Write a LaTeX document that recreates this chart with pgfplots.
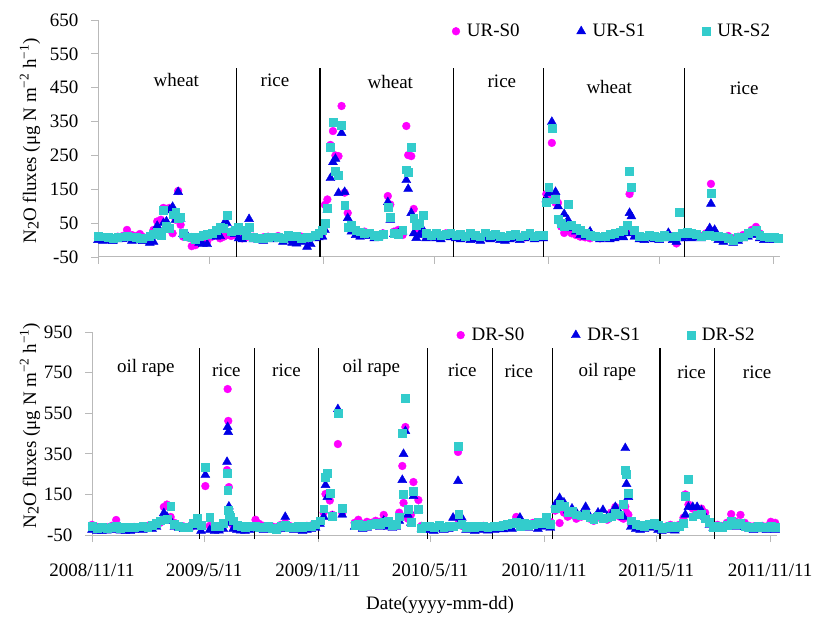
\documentclass[border=0pt]{standalone}
\usepackage{fontspec}
\setmainfont{Liberation Serif}
\usepackage{pgfplots}
\pgfplotsset{compat=1.18}
\usepackage{pgfplotstable}
\definecolor{cpink}{RGB}{255,0,255}
\definecolor{cblue}{RGB}{0,0,230}
\definecolor{ccyan}{RGB}{51,204,204}
\definecolor{axgray}{RGB}{185,185,185}
\newcommand{\ff}{\fontsize{19bp}{22bp}\selectfont}

\pgfplotstableread{
day s0 s1 s2
0 5 0 12
8 8 -2 10
16 3 0 8
24 6 -3 5
32 10 2 8
40 12 3 10
47 30 8 12
55 15 -2 10
62 12 5 8
68 18 2 6
72 10 -3 5
84 8 -8 12
90 30 -5 18
96 55 42 25
102 60 20 15
106 95 50 89
111 92 55 40
116 95 88 35
121 20 98 75
126 60 60 83
130 145 142 65
134 45 62 68
138 10 18 20
145 8 12 10
152 -18 5 8
158 -15 2 3
164 5 -8 10
170 3 -12 14
177 -5 -12 18
185 10 15 21
192 15 10 30
198 5 12 39
204 10 48 35
209 15 50 74
216 12 22 25
222 15 18 30
228 10 5 39
234 5 2 30
240 8 10 15
245 12 62 39
252 10 2 8
260 5 0 6
268 8 -2 5
276 10 5 8
284 6 2 10
292 12 4 8
300 5 -5 5
308 8 0 15
315 2 -8 10
322 5 -10 12
330 10 -5 5
339 5 -20 8
345 8 -12 10
352 10 5 15
358 15 8 20
364 20 10 30
368 104 30 50
372 120 89 95
377 281 183 275
381 322 230 349
385 250 240 204
390 248 139 192
395 396 316 340
400 140 142 104
405 80 65 39
411 35 25 45
418 20 15 30
425 15 10 25
432 25 18 20
440 18 12 22
448 10 5 15
455 12 8 10
462 20 15 18
470 130 112 98
474 105 60 68
480 25 18 20
487 30 20 18
494 15 25 30
500 337 177 208
503 251 151 200
508 248 80 275
512 92 20 65
516 36 6 45
521 20 15 50
527 25 30 74
532 10 5 20
540 12 8 15
548 10 5 20
556 8 2 15
564 20 10 18
572 15 8 20
580 10 5 15
588 8 2 18
596 12 5 12
604 10 0 20
612 8 2 15
620 5 -2 10
628 10 5 22
636 8 2 15
644 12 5 18
652 10 0 12
660 6 -2 10
668 8 2 14
676 12 5 18
684 10 0 10
692 8 5 15
700 15 8 20
708 10 2 12
716 12 5 15
722 10 5 15
727 136 120 112
731 130 139 157
736 287 349 331
742 110 142 120
746 110 100 62
751 40 55 50
756 21 77 41
762 30 60 107
768 20 35 45
775 15 25 35
782 10 15 28
790 8 10 20
798 5 25 15
806 10 8 12
814 5 2 10
822 8 5 12
830 10 2 18
838 12 5 20
846 15 10 25
852 20 8 30
858 25 20 45
862 136 80 204
865 150 70 157
870 20 10 30
878 8 2 12
886 5 0 10
894 10 5 15
902 8 2 12
910 5 0 8
918 10 5 15
925 15 21 10
932 5 0 10
938 -10 -5 12
942 8 5 83
948 10 5 20
955 15 10 25
962 10 5 20
970 15 8 18
978 12 5 10
986 20 10 15
992 30 35 15
994 166 107 139
1000 20 30 10
1006 5 0 12
1014 8 -5 10
1022 12 0 5
1030 5 -8 0
1038 10 -2 8
1046 15 5 10
1054 21 10 20
1060 30 15 25
1067 39 20 30
1073 20 5 15
1080 8 0 10
1088 5 2 8
1096 8 0 8
1103 5 2 5
}\toptable

\pgfplotstableread{
day s0 s1 s2
0 0 -25 -5
8 -10 -30 -15
16 -15 -30 -10
24 -12 -28 -15
32 -5 -25 -10
39 24 -20 -8
46 -10 -28 -15
54 -15 -30 -12
62 -12 -30 -10
68 -10 -25 -12
82 -10 -25 -8
90 -5 -20 -10
97 -8 -20 0
104 5 -10 10
110 10 15 20
116 88 58 25
121 100 40 30
127 39 20 93
133 10 -10 5
140 -5 -15 -5
148 -8 -20 -10
156 -10 -15 -12
163 -5 -10 10
170 0 -5 34
176 -10 -30 0
183 191 246 285
190 -5 -25 39
198 -10 -30 -5
205 -12 -28 -8
212 -5 -20 10
218 270 310 255
219 669 482 172
220 512 457 73
221 186 90 50
224 30 10 40
228 -5 -20 20
234 -10 -25 0
240 -8 -28 -5
247 -12 -30 -10
254 -10 -25 -8
264 25 -15 -5
270 5 -20 -10
277 -5 -25 -12
284 -10 -20 -8
291 -8 -15 -15
298 -12 -25 -20
305 0 -20 -5
312 10 39 0
319 -5 -20 -10
326 -10 -25 -12
333 -8 -20 -5
340 -12 -30 -10
347 -5 -25 -8
354 -3 -20 -5
361 0 -15 5
368 14 5 20
374 60 40 80
377 152 196 236
380 246 137 255
384 120 150 157
388 50 40 44
397 398 570 551
404 58 50 83
424 10 -10 0
430 25 -5 5
437 5 -20 -5
444 15 -15 0
451 10 -5 5
458 20 0 10
465 15 -10 5
471 49 20 15
478 10 -10 20
485 5 -15 0
491 0 -10 5
496 60 20 40
501 290 221 452
503 108 349 150
506 482 462 625
510 30 50 78
515 50 10 14
519 211 142 167
527 122 73 78
532 -5 -20 -15
538 -10 -25 -5
545 -10 -25 -5
552 -15 -30 -10
560 -5 -20 0
568 -12 -25 -10
576 -8 -20 -5
583 -10 35 -8
591 359 216 388
592 10 0 53
597 -5 35 5
604 -12 -25 -10
611 -8 -20 -5
618 -15 -30 -12
625 -10 -25 -8
632 -5 -20 -5
639 -12 -28 -10
650 -10 -25 -8
657 -5 -20 -5
664 -8 -22 0
671 0 -15 5
678 -5 -20 10
685 39 0 15
691 5 35 -5
698 0 -10 10
705 5 -15 0
712 10 -5 5
720 0 -20 15
727 5 -10 10
733 10 -5 39
740 15 -15 5
748 70 100 80
755 9 132 100
762 60 110 90
768 40 70 63
775 50 80 70
782 30 60 50
790 40 50 45
797 55 88 55
804 30 40 35
810 20 30 25
817 40 60 45
825 30 73 30
832 25 40 35
838 60 50 40
845 88 88 60
852 40 60 50
858 30 40 100
861 90 378 270
863 60 201 250
866 50 137 157
870 5 -10 20
878 0 -20 5
885 -5 -25 0
892 -10 -20 -5
900 -5 -15 5
908 0 -10 10
914 -5 -25 0
920 -10 -30 -15
927 -8 -25 -10
934 0 -20 -5
941 -5 -28 -12
948 0 -15 -5
955 35 0 10
958 150 50 142
963 100 88 226
970 80 88 40
977 60 88 50
984 80 70 55
990 60 40 30
997 10 0 15
1003 -5 -15 -10
1010 0 -15 -5
1017 -5 -20 -10
1025 10 -10 0
1032 53 5 20
1040 15 -10 5
1047 49 0 10
1054 10 -10 -5
1061 -5 -20 -10
1068 -8 -25 -12
1075 -10 -20 -8
1082 -5 -22 -10
1089 -8 -25 -12
1096 15 -20 -5
1103 10 -25 -10
}\bottable

\pgfplotsset{
  myaxis/.style={
    scale only axis, clip=false,
    xmin=0, xmax=1106,
    axis x line=bottom, axis y line=left,
    x axis line style={-, axgray, line width=1pt},
    y axis line style={-, axgray, line width=1pt},
    tick style={axgray, line width=0.8pt},
    major tick length=7bp, tick align=outside,
    xtick={0,181,365,546,730,911,1095},
    /pgf/number format/assume math mode=true,
    tick label style={font=\ff, black},
    yticklabel style={xshift=-9bp},
    label style={font=\ff},
    legend columns=3,
    legend cell align=left,
    legend style={draw=none, fill=none, font=\ff},
  },
  pS0/.style={only marks, mark=*, mark size=3.9bp, mark options={draw=cpink, fill=cpink}},
  pS1/.style={only marks, mark=triangle*, mark size=5.2bp, mark options={draw=cblue, fill=cblue}},
  pS2/.style={only marks, mark=square*, mark size=3.9bp, mark options={draw=ccyan, fill=ccyan}},
}

\begin{document}
\begin{tikzpicture}
\path[use as bounding box] (0bp,0bp) rectangle (813bp,617bp);

% ---------- top panel ----------
\begin{axis}[myaxis,
  at={(98bp,360bp)}, anchor=south west,
  width=682bp, height=237bp,
  ymin=-50, ymax=650, ytick={-50,50,...,650},
  xticklabels={},
  ylabel={N\raisebox{-0.3ex}{\scalebox{0.85}{2}}O fluxes (μg N m\textsuperscript{−2} h\textsuperscript{−1})},
  ylabel style={at={(axis description cs:-0.0997,0.49)}, anchor=center},
  legend style={at={(0.993,1.0)}, anchor=north east,
    /tikz/every even column/.append style={column sep=55bp}},
]
\addplot[pS0] table[x=day,y=s0]{\toptable};
\addlegendentry{\hspace{5bp}UR-S0}
\addplot[pS1] table[x=day,y=s1]{\toptable};
\addlegendentry{\hspace{5bp}UR-S1}
\addplot[pS2] table[x=day,y=s2]{\toptable};
\addlegendentry{\hspace{5bp}UR-S2}
\foreach \d in {224,360,577,722,951}{
  \edef\tmp{\noexpand\draw[black, line width=1.2pt] (axis cs:\d,-50) -- (axis cs:\d,507);}\tmp
}
\node[font=\ff] at (axis cs:127,473) {wheat};
\node[font=\ff] at (axis cs:287,473) {rice};
\node[font=\ff] at (axis cs:474,467) {wheat};
\node[font=\ff] at (axis cs:655,470) {rice};
\node[font=\ff] at (axis cs:829,452) {wheat};
\node[font=\ff] at (axis cs:1048,449) {rice};
\end{axis}

% ---------- bottom panel ----------
\begin{axis}[myaxis,
  at={(92bp,82bp)}, anchor=south west,
  width=685bp, height=203bp,
  ymin=-50, ymax=950, ytick={-50,150,...,950},
  xticklabels={2008/11/11,2009/5/11,2009/11/11,2010/5/11,2010/11/11,2011/5/11,2011/11/11},
  xticklabel style={yshift=-18bp},
  xlabel={Date(yyyy-mm-dd)},
  xlabel style={at={(axis description cs:0.508,-0.345)}, anchor=center},
  ylabel={N\raisebox{-0.3ex}{\scalebox{0.85}{2}}O fluxes (μg N m\textsuperscript{−2} h\textsuperscript{−1})},
  ylabel style={at={(axis description cs:-0.0905,0.54)}, anchor=center},
  legend style={at={(0.975,1.04)}, anchor=north east,
    /tikz/every even column/.append style={column sep=45bp}},
]
\addplot[pS0] table[x=day,y=s0]{\bottable};
\addlegendentry{\hspace{5bp}DR-S0}
\addplot[pS1] table[x=day,y=s1]{\bottable};
\addlegendentry{\hspace{5bp}DR-S1}
\addplot[pS2] table[x=day,y=s2]{\bottable};
\addlegendentry{\hspace{5bp}DR-S2}
\foreach \d in {173,262,366,542,646,744,917,1005}{
  \edef\tmp{\noexpand\draw[black, line width=1.2pt] (axis cs:\d,-70) -- (axis cs:\d,870);}\tmp
}
\node[font=\ff] at (axis cs:87,773) {oil rape};
\node[font=\ff] at (axis cs:217,763) {rice};
\node[font=\ff] at (axis cs:314,763) {rice};
\node[font=\ff] at (axis cs:451,773) {oil rape};
\node[font=\ff] at (axis cs:598,763) {rice};
\node[font=\ff] at (axis cs:689,757) {rice};
\node[font=\ff] at (axis cs:832,754) {oil rape};
\node[font=\ff] at (axis cs:968,750) {rice};
\node[font=\ff] at (axis cs:1074,750) {rice};
\end{axis}
\end{tikzpicture}
\end{document}
